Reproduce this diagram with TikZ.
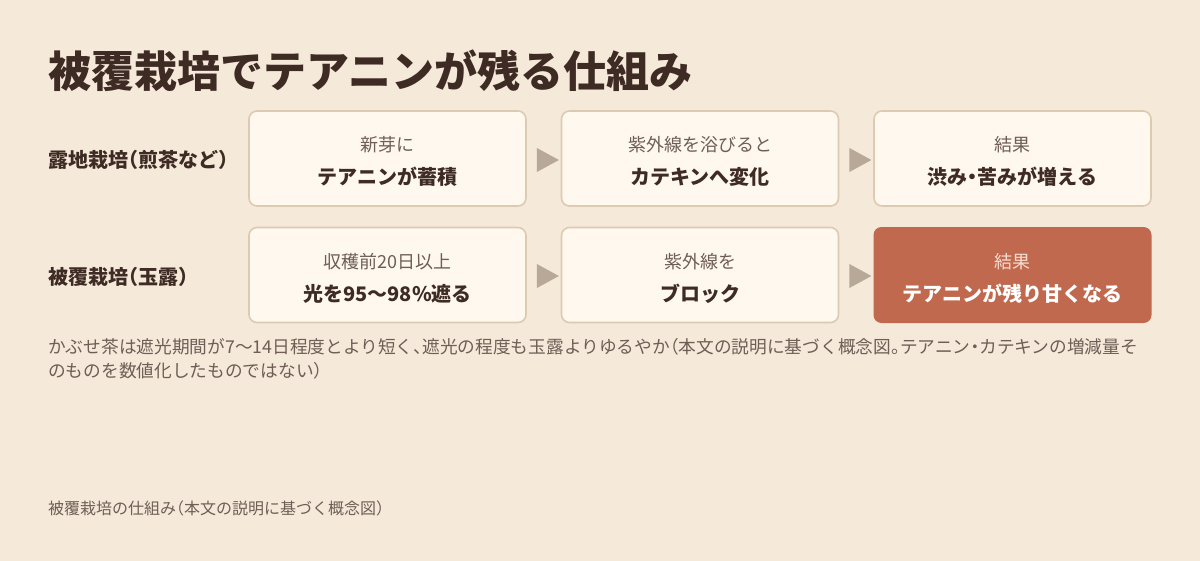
\documentclass[tikz,border=0pt]{standalone}
\usepackage{fontspec}
\usetikzlibrary{shapes.geometric}
\setmainfont{Noto Sans CJK JP}[RawFeature=+halt]
\definecolor{bg}{HTML}{F5E9DA}
\definecolor{ink}{HTML}{3D2B24}
\definecolor{sub}{HTML}{6E5E55}
\definecolor{boxfill}{HTML}{FFF8EE}
\definecolor{boxline}{HTML}{DDCAB2}
\definecolor{hl}{HTML}{C0694E}
\definecolor{hlsub}{HTML}{F8DCCF}
\definecolor{tri}{HTML}{B8A898}
\begin{document}
\begin{tikzpicture}[x=1pt,y=-1pt,
  stepbox/.style={draw=boxline,line width=1.6pt,fill=boxfill,rounded corners=8pt,minimum width=277pt,minimum height=95pt,inner sep=0pt},
  hlbox/.style={fill=hl,rounded corners=8pt,minimum width=278pt,minimum height=96pt,inner sep=0pt},
  small/.style={font=\fontsize{18pt}{20pt}\selectfont,text=sub,inner sep=0pt,anchor=center},
  bold/.style={font=\fontsize{20pt}{24pt}\selectfont\bfseries,text=ink,inner sep=0pt,anchor=center},
  rowlabel/.style={font=\fontsize{20pt}{24pt}\selectfont\bfseries,text=ink,inner sep=0pt,anchor=west},
  note/.style={font=\fontsize{17.7pt}{24pt}\selectfont,text=sub,inner sep=0pt,anchor=west},
  arrowtri/.style={fill=tri,isosceles triangle,isosceles triangle stretches=true,minimum height=22pt,minimum width=24pt,inner sep=0pt,anchor=center}
]
\useasboundingbox (0,0) rectangle (1200,560);
\fill[bg] (-10,-10) rectangle (1210,570);

\node[font=\fontsize{43pt}{48pt}\selectfont\bfseries,text=ink,inner sep=0pt,anchor=west] (title) at (48,71) {被覆栽培でテアニンが残る仕組み};

\node[rowlabel] (lab1) at (48,160) {露地栽培（煎茶など）};
\node[rowlabel] (lab2) at (48,277) {被覆栽培（玉露）};

% row 1
\node[stepbox] (a1) at (387.5,158.5) {};
\node[stepbox] (a2) at (700,158.5) {};
\node[stepbox] (a3) at (1012.5,158.5) {};
% row 2
\node[stepbox] (b1) at (387.5,275) {};
\node[stepbox] (b2) at (700,275) {};
\node[hlbox] (b3) at (1012.5,275) {};

\node[small] (a1s) at ([yshift=13.5pt]a1.center) {新芽に};
\node[bold]  (a1b) at ([yshift=-18.5pt]a1.center) {テアニンが蓄積};
\node[small] (a2s) at ([yshift=13.5pt]a2.center) {紫外線を浴びると};
\node[bold]  (a2b) at ([yshift=-18.5pt]a2.center) {カテキンへ変化};
\node[small] (a3s) at ([yshift=13.5pt]a3.center) {結果};
\node[bold]  (a3b) at ([yshift=-18.5pt]a3.center) {渋み・苦みが増える};

\node[small] (b1s) at ([yshift=13.5pt]b1.center) {収穫前20日以上};
\node[bold]  (b1b) at ([yshift=-18.5pt]b1.center) {光を95〜98\%遮る};
\node[small] (b2s) at ([yshift=13.5pt]b2.center) {紫外線を};
\node[bold]  (b2b) at ([yshift=-18.5pt]b2.center) {ブロック};
\node[small,text=hlsub] (b3s) at ([yshift=13.5pt]b3.center) {結果};
\node[bold,text=white]  (b3b) at ([yshift=-18.5pt]b3.center) {テアニンが残り甘くなる};

\node[arrowtri] (t1) at (544,160) {};
\node[arrowtri] (t2) at (856.5,160) {};
\node[arrowtri] (t3) at (544,276) {};
\node[arrowtri] (t4) at (856.5,276) {};

\node[note] (n1) at (48,347) {かぶせ茶は遮光期間が7〜14日程度とより短く、遮光の程度も玉露よりゆるやか（本文の説明に基づく概念図。テアニン・カテキンの増減量そ};
\node[note] (n2) at (48,371) {のものを数値化したものではない）};

\node[font=\fontsize{16pt}{18pt}\selectfont,text=sub,inner sep=0pt,anchor=west] (foot) at (48,508) {被覆栽培の仕組み（本文の説明に基づく概念図）};
\end{tikzpicture}
\end{document}
